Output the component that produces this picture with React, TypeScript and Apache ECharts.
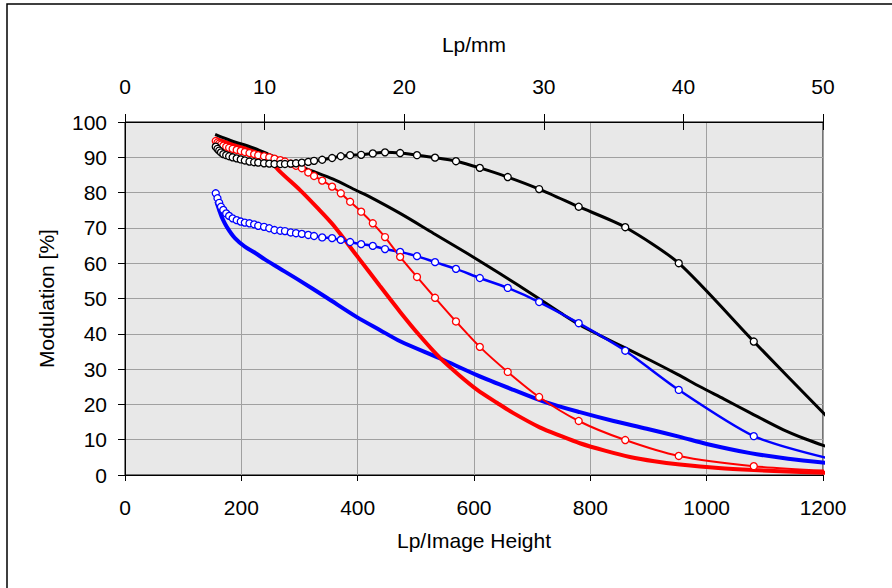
import React, { useEffect, useRef } from "react";
import * as echarts from "echarts";

// Shared sampling (Lp/Image Height) of the marked series
const markedX = [156, 159, 162, 165, 169, 174, 179, 185, 192, 199, 206, 214, 222, 229, 239, 248, 257, 267, 275, 285, 294, 304, 315, 325, 339, 356, 371, 387, 406, 426, 447, 473, 502, 533, 569, 610, 658, 712, 780, 860, 952, 1081];

const blackMarked = [93.0, 92.4, 91.9, 91.4, 90.9, 90.6, 90.3, 90.0, 89.7, 89.4, 89.1, 88.8, 88.6, 88.5, 88.3, 88.2, 88.1, 88.1, 88.1, 88.2, 88.3, 88.5, 88.7, 89.0, 89.3, 89.8, 90.3, 90.6, 90.7, 91.1, 91.4, 91.2, 90.6, 89.9, 88.9, 87.0, 84.4, 81.0, 76.0, 70.2, 60.0, 37.8];
const redMarked = [94.6, 94.2, 93.9, 93.6, 93.3, 93.0, 92.7, 92.4, 92.1, 91.8, 91.5, 91.2, 90.9, 90.6, 90.3, 90.0, 89.6, 89.2, 88.8, 88.2, 87.6, 86.9, 85.7, 84.7, 83.4, 81.7, 79.8, 77.4, 74.6, 71.3, 67.4, 61.8, 56.1, 50.2, 43.5, 36.3, 29.2, 22.1, 15.3, 9.9, 5.4, 2.5];
const blueMarked = [79.8, 78.4, 77.1, 76.0, 75.1, 74.1, 73.4, 72.7, 72.2, 71.8, 71.5, 71.3, 71.0, 70.6, 70.3, 69.9, 69.4, 69.2, 69.1, 68.7, 68.5, 68.3, 68.0, 67.7, 67.3, 67.1, 66.6, 66.0, 65.4, 64.9, 64.0, 63.2, 62.0, 60.3, 58.4, 55.8, 53.0, 49.0, 43.0, 35.2, 24.1, 11.0];

// Line ends (no marker) of the marked series
const tailX = 1207;
const blackMarkedTail = 16.5;
const redMarkedTail = 1.2;
const blueMarkedTail = 4.8;

// Thick curves without markers: [Lp/IH, modulation]
const blackThick = [[155, 96.5], [170, 95.5], [190, 94.3], [210, 93.3], [223, 92.5], [245, 91.0], [265, 89.6], [285, 88.5], [301, 87.4], [324, 86.0], [358, 83.8], [398, 80.6], [416, 79.2], [473, 74.1], [530, 68.5], [588, 62.8], [645, 57.0], [702, 51.0], [750, 45.8], [782, 42.5], [817, 39.5], [860, 36.0], [903, 32.5], [950, 28.5], [989, 25.0], [1030, 21.5], [1075, 17.6], [1132, 12.8], [1170, 10.2], [1207, 8.0]];
const redThick = [[155, 95.3], [175, 94.2], [200, 92.9], [225, 91.5], [245, 89.8], [266, 86.0], [301, 80.7], [330, 75.8], [358, 70.8], [400, 61.8], [438, 53.6], [473, 46.2], [505, 39.8], [542, 33.1], [575, 28.2], [605, 24.2], [640, 20.4], [667, 17.6], [713, 13.5], [750, 11.0], [782, 9.0], [825, 6.9], [868, 5.1], [910, 3.9], [954, 3.0], [1020, 2.0], [1081, 1.4], [1150, 0.9], [1207, 0.6]];
const blueThick = [[157, 77.5], [162, 75.0], [166, 73.2], [175, 70.3], [189, 67.1], [206, 64.7], [224, 62.9], [241, 61.0], [264, 58.7], [301, 55.0], [347, 50.2], [398, 44.8], [438, 41.1], [473, 37.9], [542, 33.0], [605, 28.3], [668, 24.1], [720, 20.8], [782, 17.8], [840, 15.3], [897, 13.1], [954, 10.8], [1000, 8.8], [1075, 6.2], [1140, 4.6], [1207, 3.4]];

const bottomTicks = { min: 0, max: 1200, interval: 200 };
const topTicks = { min: 0, max: 50, interval: 10 };
const yTicks = { min: 0, max: 100, interval: 10 };

const FONT = "Liberation Sans, Arial, sans-serif";
const FS = 21;

function markedData(ys: number[], tail: number) {
  const d: any[] = markedX.map((x, i) => [x, ys[i]]);
  d.push({ value: [tailX, tail], symbol: "none" });
  return d;
}

const plain = (v: number) => String(v);

export default function App() {
  const ref = useRef<HTMLDivElement>(null);
  useEffect(() => {
    if (!ref.current) return;
    const chart = echarts.init(ref.current, undefined, { renderer: "svg" });
    const thick = (name: string, data: number[][], color: string, width: number) => ({
      name,
      type: "line",
      xAxisIndex: 0,
      data,
      showSymbol: false,
      symbol: "none",
      smooth: 0.3,
      clip: false,
      lineStyle: { color, width },
      itemStyle: { color },
    });
    const marked = (name: string, data: any[], color: string, width: number) => ({
      name,
      type: "line",
      xAxisIndex: 0,
      data,
      symbol: "circle",
      symbolSize: 7,
      showSymbol: true,
      smooth: 0.25,
      clip: false,
      lineStyle: { color, width },
      itemStyle: { color: "#ffffff", borderColor: color, borderWidth: 1.3 },
    });
    chart.setOption({
      animation: false,
      textStyle: { fontFamily: FONT },
      grid: {
        left: 125,
        right: 69,
        top: 122,
        bottom: 113,
        show: true,
        backgroundColor: "#E8E8E8",
        borderColor: "#000",
        borderWidth: 1,
      },
      graphic: [
        {
          type: "rect",
          shape: { x: 7, y: 4, width: 1000, height: 1000 },
          style: { fill: "none", stroke: "#000", lineWidth: 1.5 },
          silent: true,
          z: 100,
        },
      ],
      xAxis: [
        {
          type: "value",
          position: "bottom",
          ...bottomTicks,
          name: "Lp/Image Height",
          nameLocation: "middle",
          nameGap: 55,
          nameTextStyle: { fontSize: FS, color: "#000", fontFamily: FONT },
          axisLine: { show: true, lineStyle: { color: "#000", width: 1 } },
          axisTick: { show: true, length: 6, lineStyle: { color: "#000" } },
          axisLabel: { fontSize: FS, color: "#000", margin: 22, fontFamily: FONT, formatter: plain },
          splitLine: { show: true, lineStyle: { color: "#A0A0A0", width: 1 } },
        },
        {
          type: "value",
          position: "top",
          ...topTicks,
          name: "Lp/mm",
          nameLocation: "middle",
          nameGap: 67,
          nameTextStyle: { fontSize: FS, color: "#000", fontFamily: FONT },
          axisLine: { show: true, lineStyle: { color: "#000", width: 1 } },
          axisTick: { show: true, length: 8, lineStyle: { color: "#000" } },
          axisLabel: { fontSize: FS, color: "#000", margin: 25, fontFamily: FONT, formatter: plain },
          splitLine: { show: false },
        },
        {
          type: "value",
          position: "top",
          ...topTicks,
          axisLine: { show: false },
          axisTick: { show: true, inside: true, length: 8, lineStyle: { color: "#000" } },
          axisLabel: { show: false },
          splitLine: { show: false },
        },
      ],
      yAxis: {
        type: "value",
        ...yTicks,
        name: "Modulation [%]",
        nameLocation: "middle",
        nameGap: 68,
        nameTextStyle: { fontSize: FS, color: "#000", fontFamily: FONT },
        axisLine: { show: true, lineStyle: { color: "#000", width: 1 } },
        axisTick: { show: true, length: 7, lineStyle: { color: "#000" } },
        axisLabel: { fontSize: FS, color: "#000", margin: 18, fontFamily: FONT, formatter: plain },
        splitLine: { show: true, lineStyle: { color: "#A0A0A0", width: 1 } },
      },
      series: [
        thick("Blue", blueThick, "#0000FF", 4),
        thick("Red", redThick, "#FF0000", 4),
        thick("Black", blackThick, "#000000", 3),
        marked("Blue marked", markedData(blueMarked, blueMarkedTail), "#0000FF", 2.5),
        marked("Red marked", markedData(redMarked, redMarkedTail), "#FF0000", 2),
        marked("Black marked", markedData(blackMarked, blackMarkedTail), "#000000", 3),
      ],
    });
    return () => chart.dispose();
  }, []);
  return (
    <div
      ref={ref}
      style={{ position: "absolute", left: 0, top: 0, width: 892, height: 588, background: "#fff" }}
    />
  );
}
